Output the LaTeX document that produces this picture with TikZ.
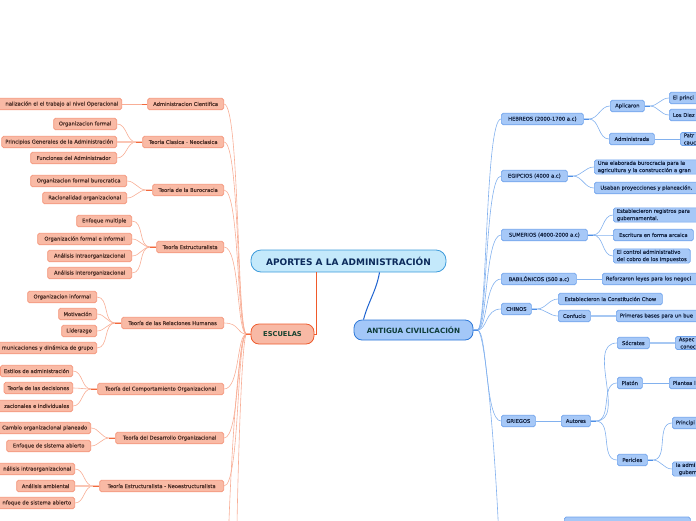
\documentclass[tikz,border=0pt]{standalone}
\usepackage{fontspec}
\setmainfont{DejaVu Sans}
\newfontfamily\semib{DejaVu Sans}[FakeBold=0.6]
\definecolor{sfill}{HTML}{F9BAA5}
\definecolor{sborder}{HTML}{F4957A}
\definecolor{stext}{HTML}{4E3028}
\definecolor{slinec}{HTML}{F8AE96}
\definecolor{sstub}{HTML}{F26A3D}
\definecolor{bfill}{HTML}{A6C8F7}
\definecolor{bborder}{HTML}{6FA3EC}
\definecolor{btext}{HTML}{172745}
\definecolor{blinec}{HTML}{82B1EE}
\definecolor{bstub}{HTML}{4F8FE6}
\definecolor{rootfill}{HTML}{C4E9FB}
\definecolor{rootborder}{HTML}{3D9BDB}
\definecolor{roottext}{HTML}{0B2A5B}
\definecolor{escfill}{HTML}{F8B9A5}
\definecolor{escborder}{HTML}{EE5C2E}
\definecolor{esctext}{HTML}{17432F}
\definecolor{antfill}{HTML}{A3C7F8}
\definecolor{antborder}{HTML}{2D78D8}
\definecolor{anttext}{HTML}{0F3D3A}
\definecolor{redline}{HTML}{F05A2A}
\definecolor{blueline}{HTML}{1E63D0}
\begin{document}
\begin{tikzpicture}[x=1pt,y=-1pt,
  small/.style={font=\semib\fontsize{5.2}{7.2}\selectfont, inner xsep=3.5pt, inner ysep=1pt, minimum height=11.5pt, rounded corners=1.8pt, line width=0.7pt},
  sbox/.style={small, draw=sborder, fill=sfill, text=stext, anchor=east},
  bbox/.style={small, draw=bborder, fill=bfill, text=btext, anchor=west},
  cutL/.style={text width=150pt, align=right},
  cutR/.style={text width=70pt, align=left},
  sl/.style={draw=slinec, line width=0.6pt},
  slw/.style={draw=slinec!70, line width=1.5pt},
  sst/.style={draw=sstub, line width=0.8pt},
  bl/.style={draw=blinec, line width=0.6pt},
  blw/.style={draw=blinec!70, line width=1.5pt},
  bst/.style={draw=bstub, line width=0.8pt}]
\useasboundingbox (0,0) rectangle (696,520);
\clip (0,0) rectangle (696,520);

% main nodes
\node[draw=rootborder, fill=rootfill, text=roottext, line width=0.8pt, rounded corners=10pt,
  minimum width=195pt, minimum height=22pt, font=\bfseries\fontsize{9}{10}\selectfont] (root) at (348.5,261) {APORTES A LA ADMINISTRACIÓN};
\node[draw=escborder, fill=escfill, text=esctext, line width=0.8pt, rounded corners=8pt,
  minimum width=63pt, minimum height=20pt, font=\bfseries\fontsize{6.7}{8}\selectfont] (esc) at (282.5,334) {ESCUELAS};
\node[draw=antborder, fill=antfill, text=anttext, line width=0.8pt, rounded corners=8pt,
  minimum width=119pt, minimum height=20pt, font=\bfseries\fontsize{7.2}{8}\selectfont] (ant) at (413.5,330) {ANTIGUA CIVILICACIÓN};

\draw[redline, line width=1pt] ([xshift=-32pt]root.south) |- (esc.east);
\draw[blueline, line width=1pt] ([xshift=31pt]root.south) to[out=-100, in=75] ([xshift=-50pt]ant.north);

% ---------------- left side ----------------
\node[sbox, minimum width=76pt] (l1) at (224,104) {Administracion Cientifica};
\node[sbox, minimum width=81pt] (l2) at (224,142) {Teoria Clasica - Neoclasica};
\node[sbox, minimum width=71pt] (l3) at (224,190) {Teoria de la Burocracia};
\node[sbox, minimum width=67pt] (l4) at (224,247) {Teoría Estructuralista};
\node[sbox, minimum width=102pt] (l5) at (224,323) {Teoría de las Relaciones Humanas};
\node[sbox, minimum width=126pt] (l6) at (224,389) {Teoría del Comportamiento Organizacional};
\node[sbox, minimum width=108pt] (l7) at (224,438) {Teoría del Desarrollo Organizacional};
\node[sbox, minimum width=124pt] (l8) at (224,486) {Teoría Estructuralista - Neoestructuralista};
\coordinate (l9) at (228,560);
\coordinate (l10) at (236,600);

\foreach \n in {l1,l2,l3,l4,l5,l6,l7,l8}
  \draw[sl] (esc.west) -- ++(-4,0) .. controls +(-10,0) and +(16,0) .. (\n.east);
\draw[sl] (esc.west) -- ++(-4,0) .. controls +(-10,0) and +(0,-40) .. (l9);
\draw[sl] (esc.west) -- ++(-4,0) .. controls +(-6,0) and +(0,-60) .. (l10);
\draw[sst] (esc.west) -- ++(-5,0);

\node[sbox, cutL] (c11) at (122,104) {nalización el el trabajo al nivel Operacional};
\node[sbox, minimum width=63pt] (c21) at (117,124) {Organizacion formal};
\node[sbox] (c22) at (117,142) {Principios Generales de la Administración};
\node[sbox, minimum width=86pt] (c23) at (117,158) {Funciones del Administrador};
\node[sbox, minimum width=96pt] (c31) at (127,181) {Organizacion formal burocratica};
\node[sbox, minimum width=84pt] (c32) at (127,198) {Racionalidad organizacional};
\node[sbox, minimum width=55pt] (c41) at (132,221) {Enfoque multiple};
\node[sbox, minimum width=94pt] (c42) at (132,239) {Organización formal e informal};
\node[sbox, minimum width=84pt] (c43) at (132,256) {Análisis intraorganizacional};
\node[sbox, minimum width=84pt] (c44) at (132,273) {Análisis interorganizacional};
\node[sbox, minimum width=69pt] (c51) at (97,297) {Organizacion informal};
\node[sbox, minimum width=38pt] (c52) at (97,314) {Motivación};
\node[sbox, minimum width=35pt] (c53) at (97,331) {Liderazgo};
\node[sbox, cutL] (c54) at (97,348) {municaciones y dinámica de grupo};
\node[sbox] (c61) at (73,371) {Estilos de administración};
\node[sbox] (c62) at (73,388) {Teoría de las decisiones};
\node[sbox, cutL] (c63) at (73,406) {zacionales e individuales};
\node[sbox] (c71) at (91,428) {Cambio organizacional planeado};
\node[sbox, minimum width=84pt] (c72) at (91,446) {Enfoque de sistema abierto};
\node[sbox, cutL] (c81) at (75,469) {nálisis intraorganizacional};
\node[sbox, minimum width=58pt] (c82) at (75,486) {Análisis ambiental};
\node[sbox, cutL] (c83) at (75,503) {nfoque de sistema abierto};

\draw[sl] (l1.west) -- (c11.east);
\draw[sst] (l1.west) -- ++(-5,0);
\foreach \p/\c in {l2/c21,l2/c23,l3/c31,l3/c32,l4/c41,l4/c42,l4/c43,l4/c44,
                   l5/c51,l5/c52,l5/c53,l5/c54,l6/c61,l6/c62,l6/c63,l7/c71,l7/c72,l8/c81,l8/c83}
  \draw[sl] (\p.west) -- ++(-6,0) to[out=180, in=0] (\c.east);
\draw[slw] (l2.west) -- (c22.east);
\draw[slw] (l8.west) -- (c82.east);
\foreach \p in {l2,l3,l4,l5,l6,l7,l8}
  \draw[sst] (\p.west) -- ++(-6,0);

% ---------------- right side ----------------
\node[bbox, minimum width=82pt] (r1) at (501,119) {HEBREOS (2000-1700 a.c)};
\node[bbox, minimum width=66pt] (r2) at (501,176) {EGIPCIOS (4000 a.c)};
\node[bbox, minimum width=86pt] (r3) at (501,235) {SUMERIOS (4000-2000 a.c)};
\node[bbox, minimum width=75pt] (r4) at (501,279) {BABILÓNICOS (500 a.c)};
\node[bbox, minimum width=30pt] (r5) at (501,309) {CHINOS};
\node[bbox, minimum width=34pt] (r6) at (501,421) {GRIEGOS};
\coordinate (r7) at (500,580);

\foreach \n in {r1,r2,r3,r4,r5,r6}
  \draw[bl] (ant.east) -- ++(4,0) .. controls +(10,0) and +(-16,0) .. (\n.west);
\draw[bl] (ant.east) -- ++(4,0) .. controls +(10,0) and +(0,-60) .. (r7);
\draw[bst] (ant.east) -- ++(5,0);

\node[bbox, minimum width=34pt] (r11) at (610,106) {Aplicaron};
\node[bbox, cutR] (r111) at (669,98) {El princi};
\node[bbox, cutR] (r112) at (669,115) {Los Diez};
\node[bbox, minimum width=45pt] (r12) at (609,139) {Administrada};
\node[bbox, cutR] (r121) at (680,139) {Patr\\cauc};
\node[bbox, cutR, text width=110pt] (r21) at (594,167) {Una elaborada burocracia para la\\agricultura y la construcción a gran};
\node[bbox, minimum width=104pt] (r22) at (594,188) {Usaban proyecciones y planeación.};
\node[bbox, cutR, text width=90pt] (r31) at (613,215) {Establecieron registros para\\gubernamental.};
\node[bbox, minimum width=80pt] (r32) at (613,235) {Escritura en forma arcaica};
\node[bbox, align=left] (r33) at (613,256) {El control administrativo\\del cobro de los impuestos};
\node[bbox, cutR, text width=100pt] (r41) at (602,279) {Reforzaron leyes para los negoci};
\node[bbox, minimum width=104pt] (r51) at (558,299) {Establecieron la Constitución Chow};
\node[bbox, minimum width=32pt] (r52) at (558,316) {Confucio};
\node[bbox, cutR, text width=90pt] (r521) at (616,316) {Primeras bases para un bue};
\node[bbox, minimum width=29pt] (r61) at (561,421) {Autores};
\node[bbox, minimum width=32pt] (r611) at (617,343) {Sócrates};
\node[bbox, cutR] (r6111) at (675,343) {Aspec\\\hspace*{1.5pt}conoc};
\node[bbox, minimum width=25pt] (r612) at (617,383) {Platón};
\node[bbox, cutR] (r6121) at (669,383) {Plantea l};
\node[bbox, minimum width=30pt] (r613) at (617,460) {Pericles};
\node[bbox, cutR] (r6131) at (672,423) {Principi};
\node[bbox, cutR] (r6132) at (672,469) {la admi\\\hspace*{3pt}guberr};
\node[bbox, minimum width=126pt, minimum height=14pt] (r71) at (564,524) {};

\foreach \p/\c in {r1/r11,r1/r12,r11/r111,r11/r112,r2/r21,r2/r22,r3/r31,r3/r32,r3/r33,
                   r5/r51,r5/r52,r61/r611,r61/r612,r61/r613,r613/r6131,r613/r6132}
  \draw[bl] (\p.east) -- ++(5,0) to[out=0, in=180] (\c.west);
\draw[bl] (r12.east) -- (r121.west);
\draw[bl] (r4.east) -- (r41.west);
\draw[bl] (r6.east) -- (r61.west);
\draw[bl] (r612.east) -- (r6121.west);
\draw[blw] (r52.east) -- (r521.west);
\draw[blw] (r611.east) -- (r6111.west);
\foreach \p in {r1,r11,r2,r3,r5,r61,r613}
  \draw[bst] (\p.east) -- ++(5,0);
\end{tikzpicture}
\end{document}
